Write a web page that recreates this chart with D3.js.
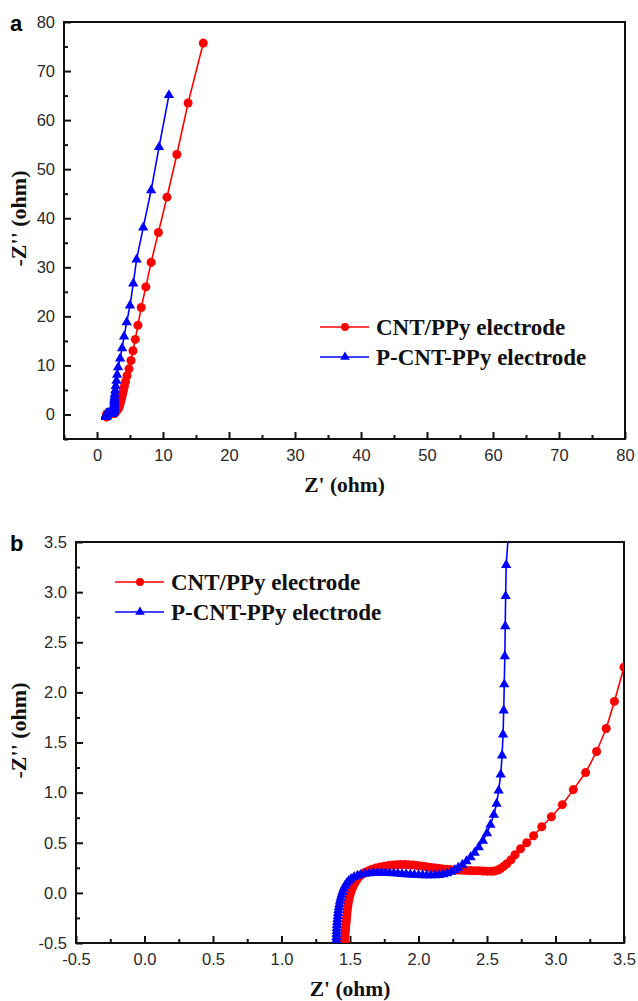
<!DOCTYPE html>
<html>
<head>
<meta charset="utf-8">
<script src="https://cdn.jsdelivr.net/npm/d3@7"></script>
<style>
body { margin: 0; background: #fff; }
</style>
</head>
<body>
<div class="graph"></div>
<script>
// Nyquist data: [Z', -Z''] in ohm
const seriesNames = ['CNT/PPy electrode', 'P-CNT-PPy electrode'];
const seriesColors = ['#ff0000', '#0000ff'];

const cntPPy = [
    [1.46,-0.50],[1.46,-0.47],[1.462,-0.44],[1.464,-0.41],[1.466,-0.38],[1.468,-0.35],[1.47,-0.32],
    [1.472,-0.29],[1.474,-0.26],[1.476,-0.23],[1.478,-0.20],[1.48,-0.17],[1.483,-0.14],[1.486,-0.11],
    [1.49,-0.08],[1.495,-0.05],[1.50,-0.02],[1.507,0.01],[1.515,0.04],[1.525,0.07],[1.537,0.10],
    [1.55,0.13],[1.567,0.16],[1.587,0.185],[1.61,0.205],[1.635,0.22],[1.66,0.235],[1.69,0.248],
    [1.72,0.258],[1.75,0.266],[1.78,0.272],[1.81,0.277],[1.84,0.28],[1.87,0.282],[1.90,0.282],
    [1.93,0.28],[1.96,0.277],[1.99,0.273],[2.02,0.268],[2.05,0.262],[2.08,0.256],[2.11,0.25],
    [2.14,0.245],[2.17,0.24],[2.20,0.236],[2.23,0.232],[2.26,0.229],[2.29,0.227],[2.32,0.225],
    [2.35,0.223],[2.38,0.222],[2.41,0.221],[2.44,0.22],[2.47,0.218],[2.50,0.216],[2.53,0.215],
    [2.555,0.218],[2.58,0.228],[2.60,0.243],[2.62,0.262],[2.645,0.29],[2.675,0.33],[2.705,0.38],
    [2.745,0.44],[2.79,0.50],[2.84,0.57],[2.90,0.66],[2.97,0.76],[3.05,0.88],[3.13,1.03],
    [3.22,1.20],[3.30,1.41],[3.37,1.64],[3.43,1.91],[3.50,2.25],[3.58,2.62],[3.67,3.05],
    [3.77,3.55],[3.88,4.15],[4.0,4.85],[4.15,5.7],[4.32,6.7],[4.55,7.9],[4.85,9.3],[5.15,11.0],
    [5.45,13.0],[5.8,15.3],[6.2,18.2],[6.7,21.8],[7.4,26.0],[8.2,31.0],[9.3,37.1],[10.6,44.3],
    [12.1,53.0],[13.8,63.5],[16.1,75.7]
];

const pCntPPy = [
    [1.40,-0.50],[1.40,-0.47],[1.401,-0.44],[1.402,-0.41],[1.403,-0.38],[1.404,-0.35],[1.405,-0.32],
    [1.407,-0.29],[1.409,-0.26],[1.411,-0.23],[1.413,-0.20],[1.416,-0.17],[1.419,-0.14],[1.423,-0.11],
    [1.427,-0.08],[1.432,-0.05],[1.438,-0.02],[1.445,0.01],[1.453,0.04],[1.463,0.07],[1.475,0.095],
    [1.49,0.12],[1.508,0.14],[1.53,0.158],[1.555,0.172],[1.58,0.182],[1.61,0.19],[1.64,0.195],
    [1.67,0.198],[1.70,0.2],[1.73,0.2],[1.76,0.199],[1.79,0.197],[1.82,0.195],[1.85,0.192],
    [1.88,0.189],[1.91,0.186],[1.94,0.183],[1.97,0.18],[2.00,0.178],[2.03,0.176],[2.06,0.175],
    [2.09,0.175],[2.12,0.176],[2.15,0.179],[2.18,0.185],[2.21,0.195],[2.24,0.21],[2.265,0.228],
    [2.29,0.25],[2.32,0.28],[2.35,0.315],[2.38,0.355],[2.41,0.40],[2.44,0.455],[2.47,0.52],
    [2.50,0.595],[2.525,0.68],[2.55,0.78],[2.57,0.89],[2.585,1.02],[2.60,1.18],[2.61,1.37],
    [2.617,1.58],[2.622,1.82],[2.626,2.08],[2.63,2.36],[2.633,2.66],[2.636,2.96],[2.64,3.27],
    [2.66,3.65],[2.70,4.15],[2.76,4.9],[2.84,5.8],[2.95,6.85],[3.05,8.1],[3.2,9.6],[3.5,11.4],
    [3.8,13.5],[4.1,15.9],[4.5,18.8],[5.0,22.2],[5.5,26.7],[6.0,31.6],[7.0,38.1],[8.2,45.7],
    [9.4,54.5],[10.9,65.1]
];

// tick labels
const ticksA = [0, 10, 20, 30, 40, 50, 60, 70, 80];
const minorA = [-5, 5, 15, 25, 35, 45, 55, 65, 75];
const ticksB = [-0.5, 0, 0.5, 1, 1.5, 2, 2.5, 3, 3.5];
const minorB = [-0.25, 0.25, 0.75, 1.25, 1.75, 2.25, 2.75, 3.25];

const sansFont = '"Liberation Sans", Arial, sans-serif';
const serifFont = '"Liberation Serif", "DejaVu Serif", "Times New Roman", serif';

const width = 638, height = 1001;
const svg = d3.select('.graph')
    .append('svg')
    .attr('width', width)
    .attr('height', height)
    .style('display', 'block');
svg.append('rect').attr('width', width).attr('height', height).attr('fill', '#fff');

const defs = svg.append('defs');

function styleAxis(a) {
    a.select('.domain').remove();
    a.selectAll('line').attr('stroke', '#111').attr('stroke-width', 2);
    a.selectAll('text')
        .style('font-family', sansFont)
        .style('font-size', '16.5px')
        .attr('fill', '#2a2a2a');
}

function drawPanel(opt) {
    const x = d3.scaleLinear().domain(opt.xDomain).range([opt.left, opt.right]);
    const y = d3.scaleLinear().domain(opt.yDomain).range([opt.bottom, opt.top]);
    const g = svg.append('g').attr('class', 'panel-' + opt.id);

    // minor ticks
    g.append('g')
        .attr('transform', `translate(0,${opt.bottom})`)
        .call(d3.axisBottom(x).tickValues(opt.minorX).tickSize(-4).tickFormat(''))
        .call(styleAxis);
    g.append('g')
        .attr('transform', `translate(${opt.left},0)`)
        .call(d3.axisLeft(y).tickValues(opt.minorY).tickSize(-4).tickFormat(''))
        .call(styleAxis);

    // major ticks
    g.append('g')
        .attr('class', 'x axis')
        .attr('transform', `translate(0,${opt.bottom})`)
        .call(d3.axisBottom(x).tickValues(opt.ticksX).tickSize(-7).tickPadding(10).tickFormat(opt.fmt))
        .call(styleAxis);
    g.append('g')
        .attr('class', 'y axis')
        .attr('transform', `translate(${opt.left},0)`)
        .call(d3.axisLeft(y).tickValues(opt.ticksY).tickSize(-7).tickPadding(9).tickFormat(opt.fmt))
        .call(styleAxis);

    // frame
    g.append('rect')
        .attr('x', opt.left)
        .attr('y', opt.top)
        .attr('width', opt.right - opt.left)
        .attr('height', opt.bottom - opt.top)
        .attr('fill', 'none')
        .attr('stroke', '#111')
        .attr('stroke-width', 2);

    // clip
    defs.append('clipPath').attr('id', 'clip-' + opt.id)
        .append('rect')
        .attr('x', opt.left).attr('y', opt.top)
        .attr('width', opt.right - opt.left).attr('height', opt.bottom - opt.top);
    const plot = g.append('g').attr('clip-path', `url(#clip-${opt.id})`);

    const line = d3.line().x(d => x(d[0])).y(d => y(d[1]));
    [cntPPy, pCntPPy].forEach((data, i) => {
        plot.append('path')
            .datum(data)
            .attr('d', line)
            .attr('fill', 'none')
            .attr('stroke', seriesColors[i])
            .attr('stroke-width', 1.6);
        plot.selectAll('.mk' + i)
            .data(data)
            .enter()
            .append('path')
            .attr('class', 'mk' + i)
            .attr('transform', d => `translate(${x(d[0])},${y(d[1])})`)
            .attr('d', d3.symbol().type(i === 0 ? d3.symbolCircle : d3.symbolTriangle).size(i === 0 ? 64 : 46))
            .attr('fill', seriesColors[i]);
    });

    // axis titles
    g.append('text')
        .attr('x', (opt.left + opt.right) / 2)
        .attr('y', opt.bottom + 53)
        .attr('text-anchor', 'middle')
        .style('font-family', serifFont)
        .style('font-weight', 'bold')
        .style('font-size', '21.5px')
        .attr('fill', '#111')
        .text("Z' (ohm)");
    g.append('text')
        .attr('transform', `translate(${opt.titleYx},${(opt.top + opt.bottom) / 2 - 12}) rotate(-90)`)
        .attr('text-anchor', 'middle')
        .style('font-family', serifFont)
        .style('font-weight', 'bold')
        .style('font-size', '22px')
        .attr('fill', '#111')
        .text("-Z'' (ohm)");

    // panel letter
    g.append('text')
        .attr('x', 10)
        .attr('y', opt.top + 9)
        .style('font-family', sansFont)
        .style('font-weight', 'bold')
        .style('font-size', '22px')
        .text(opt.id);

    // legend
    const lg = g.append('g').attr('class', 'legend');
    seriesNames.forEach((name, i) => {
        const ly = opt.legendY + i * 30;
        lg.append('line')
            .attr('x1', opt.legendX).attr('x2', opt.legendX + 49)
            .attr('y1', ly).attr('y2', ly)
            .attr('stroke', seriesColors[i]).attr('stroke-width', 1.6);
        lg.append('path')
            .attr('transform', `translate(${opt.legendX + 25},${ly})`)
            .attr('d', d3.symbol().type(i === 0 ? d3.symbolCircle : d3.symbolTriangle).size(i === 0 ? 50 : 40))
            .attr('fill', seriesColors[i]);
        lg.append('text')
            .attr('x', opt.legendX + 56)
            .attr('y', ly + 8)
            .style('font-family', serifFont)
            .style('font-weight', 'bold')
            .style('font-size', '23px')
            .attr('fill', '#111')
            .text(name);
    });
}

// hyphen-minus like the original figure
const fmtB = d => d3.format('.1f')(d).replace('\u2212', '-');

drawPanel({
    id: 'a',
    left: 64, right: 625, top: 22, bottom: 439,
    xDomain: [-5, 80], yDomain: [-5, 80],
    ticksX: ticksA, ticksY: ticksA, minorX: minorA, minorY: minorA,
    fmt: d3.format('d'),
    titleYx: 26,
    legendX: 320, legendY: 327
});

drawPanel({
    id: 'b',
    left: 76, right: 624, top: 542, bottom: 943,
    xDomain: [-0.5, 3.5], yDomain: [-0.5, 3.5],
    ticksX: ticksB, ticksY: ticksB, minorX: minorB, minorY: minorB,
    fmt: fmtB,
    titleYx: 26,
    legendX: 115, legendY: 582
});
</script>
</body>
</html>
